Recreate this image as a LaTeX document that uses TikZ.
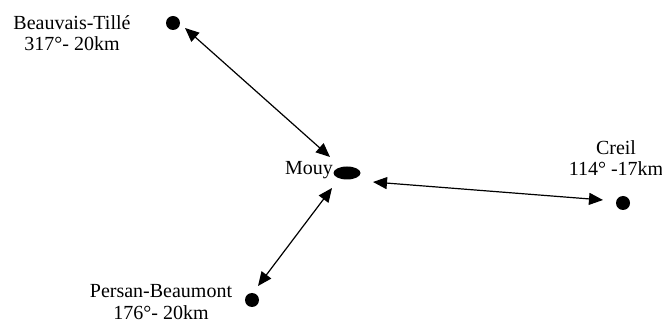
\documentclass[tikz,border=0pt]{standalone}
\usepackage{fontspec}
\setmainfont{Liberation Serif}[Ligatures=TeX]
\usetikzlibrary{arrows.meta,shapes.geometric}
\begin{document}
\begin{tikzpicture}[x=1pt,y=-1pt,
  town/.style={circle,fill=black,inner sep=0pt,minimum size=14pt},
  hub/.style={ellipse,fill=black,inner sep=0pt,minimum width=27pt,minimum height=13pt},
  lbl/.style={align=center,inner sep=0pt,font=\rmfamily\fontsize{20}{21.5}\selectfont},
  link/.style={line width=1.2pt,{Triangle[length=14pt,width=12pt]}-{Triangle[length=14pt,width=12pt]}}]
  \path[use as bounding box] (0,0) rectangle (662,323);

  % places
  \node[hub]  (mouy)     at (347,173) {};
  \node[town] (beauvais) at (173,23)  {};
  \node[town] (creil)    at (623,203) {};
  \node[town] (persan)   at (252,300) {};

  % names, bearings and distances
  \node[lbl,anchor=base east] (mouylbl) at (333,175) {Mouy};
  \node[lbl] (beauvaislbl) at (72,33)  {Beauvais-Tillé\\317°- 20km};
  \node[lbl] (creillbl)    at (616,158) {Creil\\114° -17km};
  \node[lbl] (persanlbl)   at (161,302) {Persan-Beaumont\\176°- 20km};

  % links to Mouy
  \draw[link] ([shift={(12,5)}]beauvais.center) -- ([shift={(-17,-16)}]mouy.center);
  \draw[link] ([shift={(6,-14)}]persan.center) -- ([shift={(-15,15)}]mouy.center);
  \draw[link] ([shift={(26,9)}]mouy.center) -- ([shift={(-20,-3)}]creil.center);
\end{tikzpicture}
\end{document}
